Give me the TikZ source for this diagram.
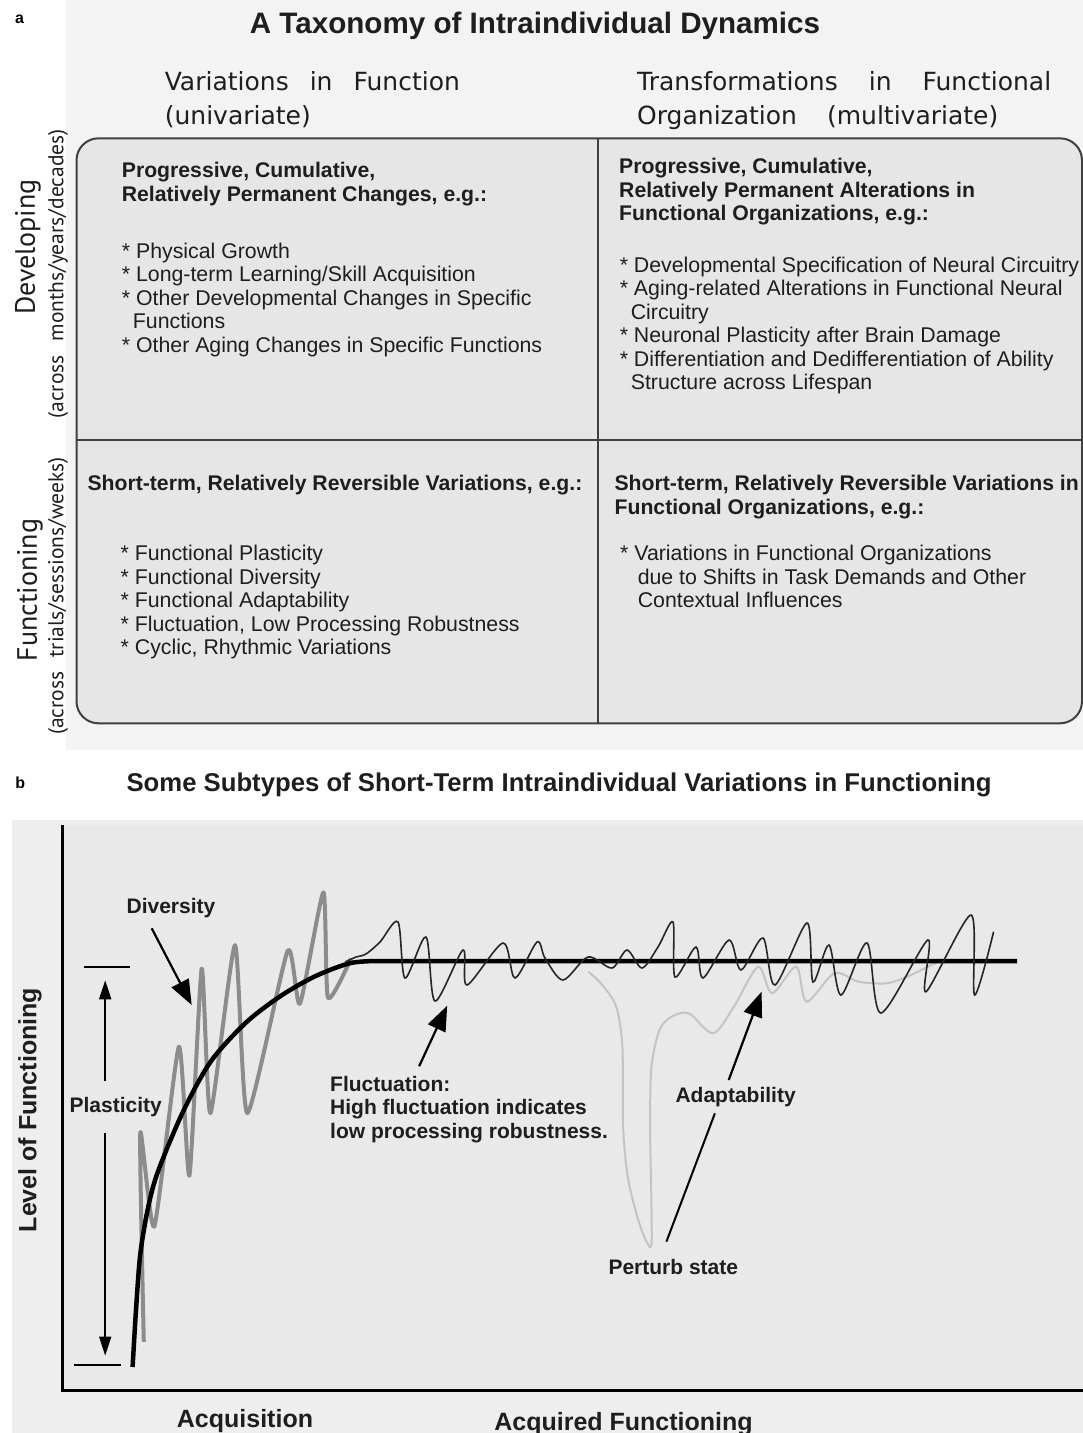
\documentclass[tikz,border=0pt]{standalone}
\usepackage{fontspec}
\setmainfont{Liberation Sans}
\newfontfamily\colfont{DejaVu Sans}
\newfontfamily\sidefont{PT Sans}
\usepackage{tikz}
\usetikzlibrary{arrows.meta}
\usetikzlibrary{positioning}
\definecolor{bga}{HTML}{F3F3F3}
\definecolor{boxgray}{HTML}{E6E6E6}
\definecolor{bgb}{HTML}{EEEEEE}
\definecolor{plotgray}{HTML}{E9E9E9}
\definecolor{ink}{HTML}{1E1E1E}
\definecolor{divgray}{HTML}{8C8C8C}
\definecolor{pertgray}{HTML}{C4C4C4}
\tikzstyle{cell}=[anchor=north west,inner sep=0pt,align=left,text=ink,font=\fontsize{21.3}{23.5}\selectfont]
\tikzstyle{head}=[cell,font=\fontsize{21.2}{23.5}\selectfont\bfseries]
\tikzstyle{colhead}=[anchor=north west,inner sep=0pt,align=left,text=ink,font=\colfont\fontsize{25}{33.3}\selectfont]
\tikzstyle{side}=[rotate=90,inner sep=0pt,text=ink,font=\sidefont\fontsize{28}{30}\selectfont]
\tikzstyle{sidesmall}=[rotate=90,inner sep=0pt,text=ink,font=\sidefont\fontsize{21.5}{22}\selectfont]
\tikzstyle{lbl}=[inner sep=0pt,align=left,text=ink,font=\fontsize{21}{23.5}\selectfont\bfseries]
\tikzstyle{axlbl}=[inner sep=0pt,text=ink,font=\fontsize{25}{27}\selectfont\bfseries]
\tikzstyle{pointer}=[line width=2.2pt,-{Triangle[length=25pt,width=19pt]}]
\tikzstyle{parrow}=[line width=1.6pt,-{Triangle[length=19pt,width=12pt]}]
\newcommand{\cont}{\hspace*{11pt}}

\begin{document}
\begin{tikzpicture}[x=1pt,y=-1pt]
\useasboundingbox[fill=white] (0,0) rectangle (1083,1433);
\fill[bga] (66,0) rectangle (1083,750);
\fill[bgb] (12,820) rectangle (1083,1433);
\fill[plotgray] (62,825) rectangle (1083,1390);

% panel a
\node[anchor=base west,inner sep=0pt,font=\fontsize{16}{16}\selectfont\bfseries] (la) at (15,23) {a};
\node[anchor=base,inner sep=0pt,text=ink,font=\fontsize{29.6}{30}\selectfont\bfseries] (ta) at (535,33) {A Taxonomy of Intraindividual Dynamics};
\node[colhead] (c1) at (164.6,71.7) {Variations\hspace{21pt}in\hspace{21pt}Function\\(univariate)};
\node[colhead] (c2) at (637,71.7) {Transformations\hspace{31pt}in\hspace{31pt}Functional\\Organization\hspace{30pt}(multivariate)};
\node[side] (dev) at (28,247) {Developing};
\node[sidesmall] (devs) at (58,274) {(across\hspace{14pt}months/years/decades)};
\node[side] (fun) at (30,590) {Functioning};
\node[sidesmall] (funs) at (58,596) {(across\hspace{14pt}trials/sessions/weeks)};
\draw[line width=2pt,draw=black!75,fill=boxgray,rounded corners=22pt] (76.5,138.3) rectangle (1082,723.3);
\draw[line width=2pt,draw=black!75] (598.2,138.3) -- (598.2,723.3);
\draw[line width=2pt,draw=black!75] (76.5,440) -- (1082,440);

\node[head] (tlh) at (121.7,162) {Progressive, Cumulative,\\Relatively Permanent Changes, e.g.:};
\node[cell] (tli) at (121.7,242.7) {* Physical Growth\\* Long-term Learning/Skill Acquisition\\* Other Developmental Changes in Specific\\\cont Functions\\* Other Aging Changes in Specific Functions};
\node[head] (trh) at (619,158.3) {Progressive, Cumulative,\\Relatively Permanent Alterations in\\Functional Organizations, e.g.:};
\node[cell] (tri) at (619.6,256.7) {* Developmental Specification of Neural Circuitry\\* Aging-related Alterations in Functional Neural\\\cont Circuitry\\* Neuronal Plasticity after Brain Damage\\* Differentiation and Dedifferentiation of Ability\\\cont Structure across Lifespan};
\node[head] (blh) at (87.3,475) {Short-term, Relatively Reversible Variations, e.g.:};
\node[cell] (bli) at (120.5,545) {* Functional Plasticity\\* Functional Diversity\\* Functional Adaptability\\* Fluctuation, Low Processing Robustness\\* Cyclic, Rhythmic Variations};
\node[head] (brh) at (614.4,475) {Short-term, Relatively Reversible Variations in\\Functional Organizations, e.g.:};
\node[cell] (bri) at (620,545) {* Variations in Functional Organizations\\\hspace*{17.6pt}due to Shifts in Task Demands and Other\\\hspace*{17.6pt}Contextual Influences};

% panel b
\node[anchor=base west,inner sep=0pt,font=\fontsize{16}{16}\selectfont\bfseries] (lb) at (15.3,788) {b};
\node[anchor=base,inner sep=0pt,text=ink,font=\fontsize{25.7}{26}\selectfont\bfseries] (tb) at (559,791.5) {Some Subtypes of Short-Term Intraindividual Variations in Functioning};
\draw[line width=3pt] (62,825) -- (62,1390) -- (1083,1390);
\node[axlbl,rotate=90] (ylab) at (30,1110) {Level of Functioning};
\node[axlbl,anchor=base] (acq) at (245,1427) {Acquisition};
\node[axlbl,anchor=base] (acqf) at (623.5,1430) {Acquired Functioning};

\draw[pertgray,line width=2pt] plot[smooth,tension=0.5] coordinates {(588.5,971.7) (602.3,985) (616.2,1006.7) (622.4,1046.7) (623.1,1126.7) (628.3,1180) (640.4,1226.7) (650.8,1246.7) (651.5,1210) (650.1,1126.7) (651.5,1066.7) (659.5,1030) (671.6,1016.7) (688.9,1013.3) (713.1,1033.3) (733.9,1006.7) (758.1,966.7) (772,993.3) (796.2,966.7) (806.6,1001.7) (834.3,973.3) (858.6,981.7) (886.3,983.3) (907,976.7) (941.7,960)};
\draw[divgray,line width=4pt,line join=round] plot[smooth,tension=0.35] coordinates {(143.8,1341.9) (140.3,1132.7) (154.3,1226.6) (178.9,1046.7) (189.4,1175.7) (201.7,968.6) (210.4,1113.2) (235,945.1) (247.3,1113.2) (287.6,951) (299.9,1003.7) (323.4,892.3) (328,997.9) (350.8,958.8)};
\draw[line width=4.5pt] plot[smooth] coordinates {(132.6,1367) (136,1310) (140.3,1254) (148,1208) (157.8,1172) (182.4,1113) (210.4,1062) (245.5,1023) (280.6,996) (315.7,976) (350.8,963) (380,961)} -- (1017,961);
\draw[black!85,line width=1.6pt] plot[smooth,tension=0.5] coordinates {(345,962) (356,957) (366,954) (380,942) (398,922) (405,978) (426,937) (435,1001) (463,950) (467,985) (503,943) (515,978) (537,942) (545,958) (563,980) (588,957) (612,968) (627,950) (642,968) (658,947) (673,922) (675,977) (696,947) (703,978) (729,940) (741,970) (763,938) (775,985) (807,923) (813,982) (829,945) (841,995) (867,943) (881,1013) (927.8,940) (926,991.7) (971,915) (974.6,995) (993.6,931.7)};

\draw[line width=1.8pt] (83.5,966.6) -- (129.8,966.6);
\draw[line width=1.8pt] (74.4,1365.3) -- (121,1365.3);
\node[lbl,inner ysep=16pt] (plas) at (115.7,1107.3) {Plasticity};
\coordinate (ptop) at (105.2,980.3);
\coordinate (pbot) at (105.2,1355.6);
\draw[parrow] (plas.north -| ptop) -- (ptop);
\draw[parrow] (plas.south -| pbot) -- (pbot);

\node[lbl] (div) at (171,908) {Diversity};
\coordinate (d1) at (151.7,928.3);
\coordinate (d2) at (191.7,1005);
\draw[pointer] (d1) -- (d2);

\node[lbl,anchor=north west] (fluc) at (330,1076) {Fluctuation:\\High fluctuation indicates\\low processing robustness.};
\coordinate (f1) at (419.1,1066.3);
\coordinate (f2) at (447.2,1005.7);
\draw[pointer] (f1) -- (f2);

\node[lbl] (adapt) at (735.6,1096.7) {Adaptability};
\coordinate (a1) at (728.7,1080);
\coordinate (a2) at (761.6,991.7);
\draw[pointer] (a1) -- (a2);
\node[lbl] (pert) at (673.3,1266.7) {Perturb state};
\coordinate (p1) at (714.9,1113.3);
\coordinate (p2) at (666.4,1241.7);
\draw[line width=2pt] (p1) -- (p2);
\end{tikzpicture}
\end{document}
